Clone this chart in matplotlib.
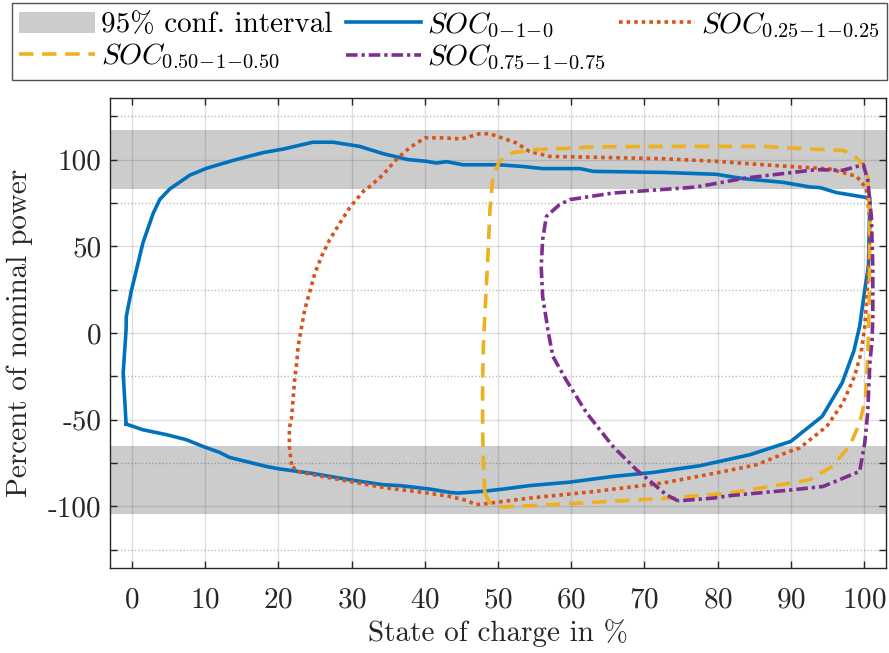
import matplotlib
matplotlib.use("Agg")
import matplotlib.pyplot as plt
import numpy as np

plt.rcParams['font.family'] = 'cmr10'
plt.rcParams['mathtext.fontset'] = 'cm'
plt.rcParams['axes.unicode_minus'] = False
plt.rcParams['axes.formatter.use_mathtext'] = True

# ---- data ----
blue_x = [-0.8, -1.2, -0.8, -0.77, -0.1, 1.5, 2.9, 3.8, 5.15, 7.9, 10.2, 13.8, 17.9, 20.6, 24.7, 27.5,
          31.1, 34.3, 37.7, 40.2, 41.6, 43.0, 45.2, 50.2, 53.4, 56.1, 61.2, 63.0, 72.5, 79.8, 83.5,
          88.9, 92.6, 94.0, 96.2, 100.8, 100.6, 100.1, 99.4, 98.6, 97.0, 94.3, 90.0, 84.4, 77.6,
          71.2, 65.7, 59.8, 54.3, 50.7, 47.9, 44.5, 43.4, 40.7, 36.6, 34.3, 29.7, 24.7, 20.2, 18.4,
          13.3, 12.0, 9.7, 7.4, 4.7, 1.5, -0.8]
blue_y = [-52.5, -23, 2, 9.6, 24, 52, 69, 77, 83, 91, 95, 99.5, 104, 106, 110, 110,
          107.6, 103.4, 100, 99, 98, 98.8, 97, 97, 96, 94.8, 94.8, 93.2, 92.6, 91.5, 89,
          86.9, 84.2, 83.8, 81, 77.8, 38.4, 25, 3.8, -10.5, -28.8, -48, -62.5, -70.2, -76.5,
          -80.4, -82.7, -86, -88, -90, -91.3, -92.3, -91.9, -90, -88, -87.5, -84.6, -81, -78.4, -77,
          -71.7, -68.9, -65.4, -61.5, -58.6, -55.8, -52.5]

orange_x = [21.8, 21.5, 21.5, 21.8, 22.0, 22.2, 22.5, 22.7, 23.1, 23.6, 24.3, 25.0, 25.9, 27.0, 28.4,
            29.7, 31.6, 32.5, 34.3, 36.1, 37.9, 40.0, 42.5, 45.0, 47.5, 48.9, 52.5, 54.3, 57.1, 63.4,
            72.5, 79.8, 86.2, 95.3, 99.0, 100.3, 100.8, 100.7, 100.4, 100.1, 99.6, 98.7, 97.1, 94.9,
            91.2, 89.8, 85.3, 79.8, 72.5, 63.4, 54.3, 50.7, 48.4, 47.0, 45.7, 43.4, 39.8, 34.8, 29.7,
            24.7, 22.5, 21.8]
orange_y = [-76, -65.4, -54.8, -49, -38.5, -27.9, -17.3, -7.7, 1.9, 13.4, 24, 34.6, 44.2, 53.8, 63.4,
            72, 81.7, 84.5, 91.3, 100, 106.7, 112.5, 112.5, 111.9, 114.9, 114.9, 109.6, 104.7, 101.8, 101.3,
            100.5, 99, 97, 94.6, 90.3, 83.6, 65, 48, 21, 3.8, -11.5, -25, -40.4, -53.9,
            -66.3, -68.3, -76, -80.7, -86.5, -91.3, -95.2, -97.1, -98.4, -99, -96.5, -94.2, -91.9, -89.4, -85.6,
            -81.7, -79.8, -76]

yellow_x = [48.2, 48.0, 47.9, 47.9, 48.0, 48.1, 48.6, 48.9, 49.3, 50.2, 52.0, 55.2, 63.4, 72.5, 86.2,
            93.0, 97.1, 98.5, 100.1, 100.5, 100.8, 100.7, 100.5, 100.2, 99.4, 98.0, 95.6, 92.6, 90.0,
            81.6, 73.4, 65.3, 54.3, 50.7, 48.9, 48.2]
yellow_y = [-92.3, -75, -55.8, -27, -7.7, 2, 42.3, 71, 90.3, 99, 104, 105.7, 107.3, 107.6, 107.6,
            106, 105.3, 102.8, 96, 90.3, 63.4, 15.3, -13.5, -37.5, -52, -65.4, -77, -84.6, -86.5,
            -92.3, -95.2, -97.1, -99.6, -100.3, -98, -92.3]

purple_x = [74.6, 73.0, 68.9, 65.7, 62.1, 59.3, 57.5, 56.8, 56.6, 56.1, 55.9, 56.1, 56.6, 58.4, 59.8,
            65.7, 75.3, 77.1, 83.9, 93.5, 97.1, 99.9, 100.5, 101.0, 101.2, 101.2, 101.1, 100.8, 100.5,
            100.1, 99.4, 94.4, 89.8, 81.6, 79.4, 74.6]
purple_y = [-96.8, -93.3, -78.8, -65.4, -46.1, -27, -13.5, 2, 7.7, 21, 38.4, 53.8, 67.2, 74, 76.9,
            80.7, 83.6, 84.2, 89.4, 94.2, 93.8, 97.1, 88.4, 67.2, 38.4, 9.6, -3.9, -17.3, -46,
            -63.4, -79.8, -88.5, -90.6, -93.8, -95.2, -96.8]

band_upper = (83.3, 117.0)
band_lower = (-104.2, -65.0)

xticks = list(range(0, 101, 10))
yticks = [-100, -50, 0, 50, 100]
yticklabels = ['-100', '-50', '0', '50', '100']
yminor = [-125, -75, -25, 25, 75, 125]

labels = ['95% conf. interval', r'$SOC_{0\!-\!1\!-\!0}$', r'$SOC_{0.25\!-\!1\!-\!0.25}$',
          r'$SOC_{0.50\!-\!1\!-\!0.50}$', r'$SOC_{0.75\!-\!1\!-\!0.75}$']

FS = 21

# ---- figure ----
fig = plt.figure(figsize=(8.89, 6.53), dpi=100)
ax = fig.add_axes([110/889, 1-568/653, (886-110)/889, (568-98)/653])

span1 = ax.axhspan(*band_upper, color='#cccccc', lw=0, zorder=0.3)
ax.axhspan(*band_lower, color='#cccccc', lw=0, zorder=0.3)

lw = 2.6
l_blue, = ax.plot(blue_x, blue_y, color='#0072BD', lw=lw, zorder=3)
l_orange, = ax.plot(orange_x, orange_y, color='#D95319', lw=lw, ls=(0, (1, 1.1)),
                    dash_capstyle='butt', zorder=3)
l_yellow, = ax.plot(yellow_x, yellow_y, color='#EDB120', lw=lw, ls=(0, (4.0, 2.4)), zorder=3)
l_purple, = ax.plot(purple_x, purple_y, color='#7E2F8E', lw=lw, ls=(0, (3.2, 1.1, 0.9, 1.1)),
                    zorder=3)

ax.set_xlim(-3, 103)
ax.set_ylim(-135.5, 135.5)
ax.set_xticks(xticks)
ax.set_yticks(yticks)
ax.set_yticklabels(yticklabels)
ax.set_yticks(yminor, minor=True)
ax.set_axisbelow(True)
ax.grid(True, which='major', color='#262626', alpha=0.15, lw=1.0, zorder=0.5)
ax.yaxis.grid(True, which='minor', color='#262626', alpha=0.3, lw=1.0, ls=(0, (1, 1.5)))

for s in ax.spines.values():
    s.set_color('#262626')
    s.set_linewidth(1.0)
ax.tick_params(which='both', direction='in', top=True, right=True, length=5, width=1.0,
               color='#262626', labelsize=FS, labelcolor='#262626')
ax.tick_params(axis='x', pad=14)
ax.tick_params(axis='y', pad=6)

ax.set_xlabel('State of charge in %', fontsize=FS, color='#262626', labelpad=4)
ax.set_ylabel('Percent of nominal power', fontsize=FS, color='#262626', labelpad=11)

handles = [span1, l_yellow, l_blue, l_purple, l_orange]
leg_labels = [labels[0], labels[3], labels[1], labels[4], labels[2]]
leg = fig.legend(handles, leg_labels, loc='upper left', bbox_to_anchor=(12/889, 1-3/653),
                 ncol=3, fontsize=FS, frameon=True, fancybox=False, edgecolor='#262626',
                 handlelength=2.6, handletextpad=0.2, columnspacing=0.45, borderpad=0.25,
                 labelspacing=0.12, borderaxespad=0)
leg.get_frame().set_linewidth(1.0)

fig.savefig('out.png', dpi=100)
